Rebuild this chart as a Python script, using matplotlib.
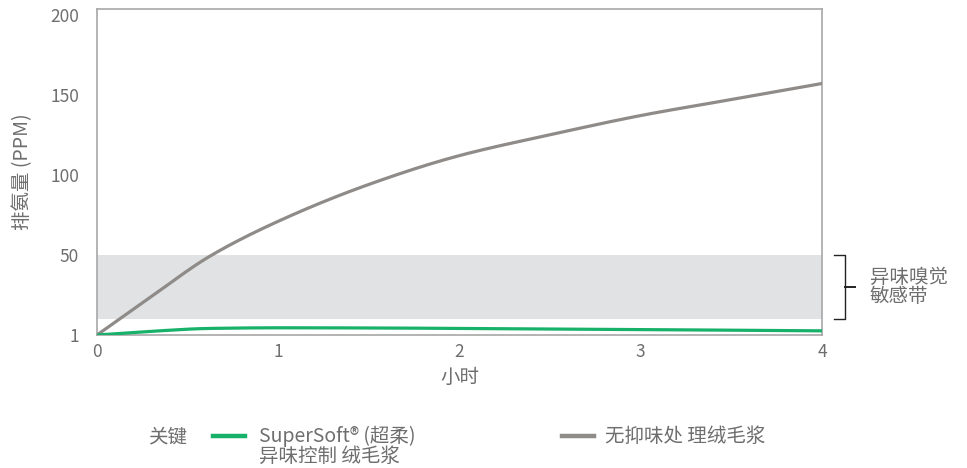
import matplotlib.pyplot as plt
from matplotlib.lines import Line2D
import numpy as np

plt.rcParams["font.family"] = ["Noto Sans CJK SC", "DejaVu Sans"]

hours = [0, 0.3, 0.62, 1.0, 1.5, 2.0, 2.5, 3.0, 3.5, 4.0]
untreated = [0, 24, 49, 71, 94, 112, 125, 137, 147, 157]
supersoft = [0, 2.3, 4.1, 4.5, 4.4, 4.1, 3.8, 3.4, 3.0, 2.6]

band_low, band_high = 10, 50
yticks = [0, 50, 100, 150, 200]
ytick_labels = ["1", "50", "100", "150", "200"]
xticks = [0, 1, 2, 3, 4]

green = "#17b169"
gray = "#8e8b88"
text_c = "#6e6e6e"
spine_c = "#a7a7a7"


def smooth(x, y, n=300):
    # monotone cubic (Fritsch-Carlson) through the read-off points
    x = np.asarray(x, float)
    y = np.asarray(y, float)
    h = np.diff(x)
    delta = np.diff(y) / h
    m = np.zeros_like(y)
    m[0], m[-1] = delta[0], delta[-1]
    for i in range(1, len(x) - 1):
        if delta[i - 1] * delta[i] <= 0:
            m[i] = 0
        else:
            w1 = 2 * h[i] + h[i - 1]
            w2 = h[i] + 2 * h[i - 1]
            m[i] = (w1 + w2) / (w1 / delta[i - 1] + w2 / delta[i])
    xs = np.linspace(x[0], x[-1], n)
    idx = np.clip(np.searchsorted(x, xs, side="right") - 1, 0, len(x) - 2)
    t = (xs - x[idx]) / h[idx]
    ys = ((2 * t**3 - 3 * t**2 + 1) * y[idx] + (t**3 - 2 * t**2 + t) * h[idx] * m[idx]
          + (-2 * t**3 + 3 * t**2) * y[idx + 1] + (t**3 - t**2) * h[idx] * m[idx + 1])
    return xs, ys


fig = plt.figure(figsize=(9.67, 4.68), dpi=100)
ax = fig.add_axes([97 / 967, 1 - 335 / 468, 725 / 967, 326 / 468])

ax.axhspan(band_low, band_high, color="#e1e2e4", lw=0, zorder=0)

xs, ys = smooth(hours, untreated)
ax.plot(xs, ys, color=gray, lw=2.3, solid_capstyle="round", zorder=3)
xs, ys = smooth(hours, supersoft)
ax.plot(xs, ys, color=green, lw=2.3, solid_capstyle="round", zorder=3)

ax.set_xlim(0, 4)
ax.set_ylim(0, 203.5)
ax.set_xticks(xticks)
ax.set_yticks(yticks)
ax.set_yticklabels(ytick_labels)
ax.tick_params(length=0, labelsize=12.5, colors=text_c, pad=6)
ax.tick_params(axis="y", pad=13)
for s in ax.spines.values():
    s.set_color(spine_c)
    s.set_linewidth(1.2)

ax.set_xlabel("小时", fontsize=14, color=text_c, labelpad=4)
ax.set_ylabel("排氨量 (PPM)", fontsize=14, color=text_c, labelpad=12)

# bracket for the sensitivity band
tr = ax.get_yaxis_transform()
bx0, bx1, bx2 = 1.017, 1.032, 1.046
ax.plot([bx0, bx1, bx1, bx0], [band_high, band_high, band_low, band_low],
        color="#222222", lw=1.0, transform=tr, clip_on=False)
mid = (band_low + band_high) / 2
ax.plot([bx1, bx2], [mid, mid], color="#222222", lw=1.4, transform=tr, clip_on=False)
ax.text(1.066, mid, "异味嗅觉\n敏感带", transform=tr, ha="left", va="center",
        fontsize=14, color=text_c, linespacing=0.9)

# legend
fig.text(148 / 967, 1 - 437 / 468, "关键", fontsize=14, color=text_c, va="center")
fig.add_artist(Line2D([213 / 967, 245 / 967], [1 - 436 / 468] * 2, color=green, lw=3.2))
fig.text(259 / 967, 1 - 426 / 468, "SuperSoft® (超柔)\n异味控制 绒毛浆", fontsize=14,
         color=text_c, va="top", linespacing=0.9)
fig.add_artist(Line2D([562 / 967, 594 / 967], [1 - 436 / 468] * 2, color=gray, lw=3.2))
fig.text(605 / 967, 1 - 437 / 468, "无抑味处 理绒毛浆", fontsize=14, color=text_c, va="center")

fig.savefig("out.png", dpi=100)
